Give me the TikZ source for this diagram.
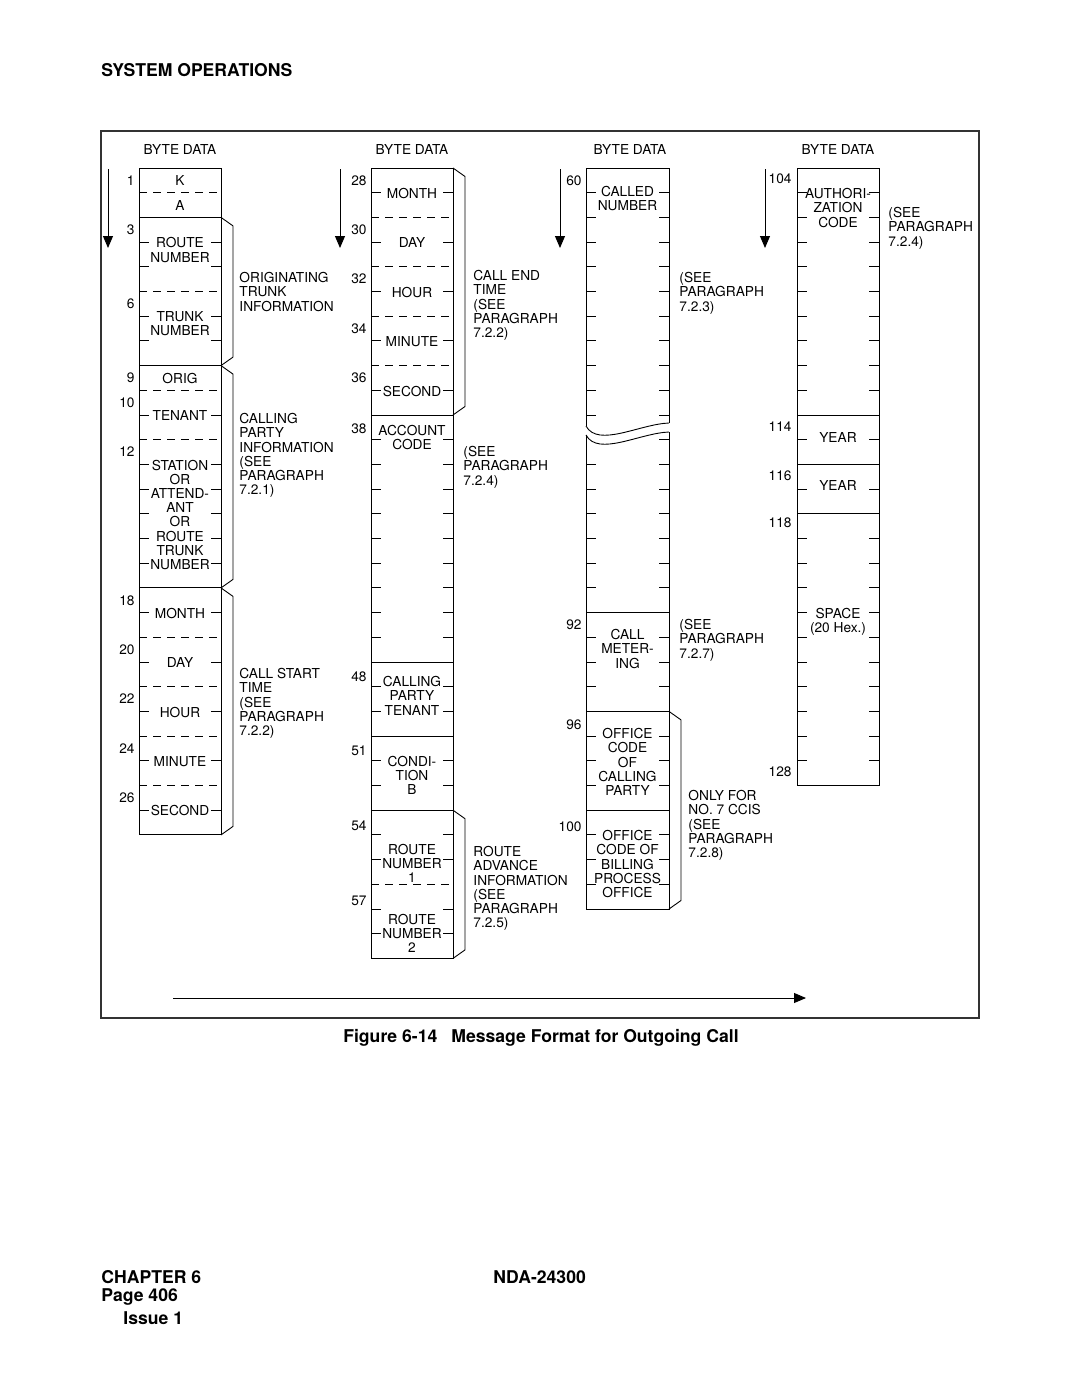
\documentclass[tikz,border=0pt]{standalone}
\usepackage{fontspec}
\setmainfont{TeX Gyre Heros}
\usetikzlibrary{arrows.meta}
\newcommand\bnd[1]{168+(#1)*24.7}
\newcommand\tks[3]{\draw (#1,{#3}) -- ++(10,0) (#2,{#3}) -- ++(-10,0);}
\newcommand\dsh[3]{\draw[dashln] (#1,{#3}) -- (#2,{#3});}
\newcommand\sln[3]{\draw (#1,{#3}) -- (#2,{#3});}
\newcommand\brkt[3]{\draw (#1,{\bnd{#2}}) -- ({#1+12},{\bnd{#2}+8.5}) -- ({#1+12},{\bnd{#3}-8.5}) -- (#1,{\bnd{#3}});}
\newcommand\clab[4]{\node[lbl] (#1) at (#2,{#3-4.9}) {#4};}
\newcommand\glab[4]{\node[grp] (#1) at (#2,{#3-4.9}) {#4};}
\newcommand\nlab[4]{\node[num] (#1) at (#2,{#3}) {#4};}
\begin{document}
\begin{tikzpicture}[x=1pt,y=-1pt,line width=0.9pt,
  lbl/.style={font=\fontsize{13.7}{14.2}\selectfont,inner sep=0pt,align=center,anchor=north},
  grp/.style={font=\fontsize{13.7}{14.2}\selectfont,inner sep=0pt,align=left,anchor=north west},
  num/.style={font=\fontsize{13.7}{14.2}\selectfont,inner sep=0pt,anchor=east},
  hdr/.style={font=\fontsize{13.7}{14.2}\selectfont,inner sep=0pt},
  big/.style={font=\bfseries\fontsize{17.6}{20}\selectfont,inner sep=0pt},
  dashln/.style={dash pattern=on 8pt off 6pt},
  dnarrow/.style={-{Triangle[length=12pt,width=10pt]}}]
\useasboundingbox (0,0) rectangle (1080,1397);
\fill[white] (0,0) rectangle (1080,1397);

% page texts
\node[big,anchor=west] (title) at (101,70) {SYSTEM OPERATIONS};
\draw[line width=1.1pt,black!80] (101,131) rectangle (979,1018);
\node[big] (caption) at (541,1038) {Figure 6-14\hspace{0.8em}Message Format for Outgoing Call};
\node[big,anchor=west] (chap) at (101,1277) {CHAPTER 6};
\node[big,anchor=west] (page) at (101,1297) {Page 406};
\node[big,anchor=west] (issue) at (123,1318) {Issue 1};
\node[big,anchor=west] (nda) at (493,1277) {NDA-24300};

% headers
\node[hdr] (h1) at (180,150) {BYTE DATA};
\node[hdr] (h2) at (412,150) {BYTE DATA};
\node[hdr] (h3) at (630,150) {BYTE DATA};
\node[hdr] (h4) at (838,150) {BYTE DATA};

% direction arrows
\coordinate (a1s) at (108,169); \coordinate (a1e) at (108,248);
\coordinate (a2s) at (340,169); \coordinate (a2e) at (340,248);
\coordinate (a3s) at (560,169); \coordinate (a3e) at (560,248);
\coordinate (a4s) at (765,169); \coordinate (a4e) at (765,248);
\coordinate (bas) at (173,998); \coordinate (bae) at (806,998);
\draw[dnarrow] (a1s) -- (a1e);
\draw[dnarrow] (a2s) -- (a2e);
\draw[dnarrow] (a3s) -- (a3e);
\draw[dnarrow] (a4s) -- (a4e);
\draw[dnarrow] (bas) -- (bae);

% ---------------- column 1 ----------------
\draw (139,168) rectangle (221,{\bnd{27}});
\foreach \k in {1,5,9,11,19,21,23,25} {\dsh{139}{221}{\bnd{\k}}}
\foreach \k in {2,8,17} {\sln{139}{221}{\bnd{\k}}}
\foreach \k in {3,4,6,7,10,12,13,14,15,16,18,20,22,24,26} {\tks{139}{221}{\bnd{\k}}}
\brkt{221}{2}{8}
\brkt{221}{8}{17}
\brkt{221}{17}{27}
\clab{c1k}{180}{\bnd{0.5}}{K}
\clab{c1a}{180}{\bnd{1.5}}{A}
\clab{c1rn}{180}{\bnd{3}}{ROUTE\\NUMBER}
\clab{c1tn}{180}{\bnd{6}}{TRUNK\\NUMBER}
\clab{c1or}{180}{\bnd{8.5}}{ORIG}
\clab{c1te}{180}{\bnd{10}}{TENANT}
\clab{c1st}{180}{\bnd{12}}{STATION\\OR\\ATTEND-\\ANT\\OR\\ROUTE\\TRUNK\\NUMBER}
\clab{c1mo}{180}{\bnd{18}}{MONTH}
\clab{c1da}{180}{\bnd{20}}{DAY}
\clab{c1ho}{180}{\bnd{22}}{HOUR}
\clab{c1mi}{180}{\bnd{24}}{MINUTE}
\clab{c1se}{180}{\bnd{26}}{SECOND}
\nlab{n1}{135}{\bnd{0.5}}{1}
\nlab{n3}{135}{\bnd{2.5}}{3}
\nlab{n6}{135}{\bnd{5.5}}{6}
\nlab{n9}{135}{\bnd{8.5}}{9}
\nlab{n10}{135}{\bnd{9.5}}{10}
\nlab{n12}{135}{\bnd{11.5}}{12}
\nlab{n18}{135}{\bnd{17.5}}{18}
\nlab{n20}{135}{\bnd{19.5}}{20}
\nlab{n22}{135}{\bnd{21.5}}{22}
\nlab{n24}{135}{\bnd{23.5}}{24}
\nlab{n26}{135}{\bnd{25.5}}{26}
\glab{g1a}{239}{277}{ORIGINATING\\TRUNK\\INFORMATION}
\glab{g1b}{239}{418}{CALLING\\PARTY\\INFORMATION\\(SEE\\PARAGRAPH\\7.2.1)}
\glab{g1c}{239}{673}{CALL START\\TIME\\(SEE\\PARAGRAPH\\7.2.2)}

% ---------------- column 2 ----------------
\draw (371,168) rectangle (453,{\bnd{32}});
\foreach \k in {2,4,6,8,29} {\dsh{371}{453}{\bnd{\k}}}
\foreach \k in {10,20,23,26} {\sln{371}{453}{\bnd{\k}}}
\foreach \k in {1,3,5,7,9,11,12,13,14,15,16,17,18,19,21,22,24,25,27,28,30,31} {\tks{371}{453}{\bnd{\k}}}
\brkt{453}{0}{10}
\brkt{453}{26}{32}
\clab{c2mo}{412}{\bnd{1}}{MONTH}
\clab{c2da}{412}{\bnd{3}}{DAY}
\clab{c2ho}{412}{\bnd{5}}{HOUR}
\clab{c2mi}{412}{\bnd{7}}{MINUTE}
\clab{c2se}{412}{\bnd{9}}{SECOND}
\clab{c2ac}{412}{430}{ACCOUNT\\CODE}
\clab{c2ca}{412}{681}{CALLING\\PARTY\\TENANT}
\clab{c2co}{412}{\bnd{24}}{CONDI-\\TION\\B}
\clab{c2r1}{412}{848.6}{ROUTE\\NUMBER\\1}
\clab{c2r2}{412}{918.5}{ROUTE\\NUMBER\\2}
\nlab{n28}{367}{\bnd{0.5}}{28}
\nlab{n30}{367}{\bnd{2.5}}{30}
\nlab{n32}{367}{\bnd{4.5}}{32}
\nlab{n34}{367}{\bnd{6.5}}{34}
\nlab{n36}{367}{\bnd{8.5}}{36}
\nlab{n38}{367}{\bnd{10.5}+1}{38}
\nlab{n48}{367}{\bnd{20.5}+2}{48}
\nlab{n51}{367}{\bnd{23.5}+2}{51}
\nlab{n54}{367}{\bnd{26.5}+3}{54}
\nlab{n57}{367}{\bnd{29.5}+4}{57}
\glab{g2a}{473}{275}{CALL END\\TIME\\(SEE\\PARAGRAPH\\7.2.2)}
\glab{g2b}{463}{451}{(SEE\\PARAGRAPH\\7.2.4)}
\glab{g2c}{473}{851}{ROUTE\\ADVANCE\\INFORMATION\\(SEE\\PARAGRAPH\\7.2.5)}

% ---------------- column 3 ----------------
\draw (586,426) -- (586,168) -- (669,168) -- (669,423);
\draw (669,432) -- (669,{\bnd{30}}) -- (586,{\bnd{30}}) -- (586,435);
\draw (586,426) .. controls (598,448) and (640,424) .. (669,423);
\draw (586,435) .. controls (598,457) and (640,433) .. (669,432);
\foreach \k in {18,22,26} {\sln{586}{669}{\bnd{\k}}}
\foreach \k in {1,2,3,4,5,6,7,8,9,10,12,13,14,15,16,17,19,20,21,23,24,25,27,28,29} {\tks{586}{669}{\bnd{\k}}}
\draw (669,{\bnd{11}}) -- ++(-10,0);
\brkt{669}{22}{30}
\clab{c3cn}{627.5}{191}{CALLED\\NUMBER}
\clab{c3cm}{627.5}{634}{CALL\\METER-\\ING}
\clab{c3oc}{627.5}{733}{OFFICE\\CODE\\OF\\CALLING\\PARTY}
\clab{c3ob}{627.5}{835}{OFFICE\\CODE OF\\BILLING\\PROCESS\\OFFICE}
\nlab{n60}{582}{181}{60}
\nlab{n92}{582}{625}{92}
\nlab{n96}{582}{725}{96}
\nlab{n100}{582}{827}{100}
\glab{g3a}{679}{277}{(SEE\\PARAGRAPH\\7.2.3)}
\glab{g3b}{679}{624}{(SEE\\PARAGRAPH\\7.2.7)}
\glab{g3c}{688}{795}{ONLY FOR\\NO. 7 CCIS\\(SEE\\PARAGRAPH\\7.2.8)}

% ---------------- column 4 ----------------
\draw (797,168) rectangle (879,{\bnd{25}});
\foreach \k in {10,12,14} {\sln{797}{879}{\bnd{\k}}}
\foreach \k in {1,2,3,4,5,6,7,8,9,11,13,15,16,17,18,19,20,21,22,23,24} {\tks{797}{879}{\bnd{\k}}}
\clab{c4au}{838}{193}{AUTHORI-\\ZATION\\CODE}
\clab{c4y1}{838}{437}{YEAR}
\clab{c4y2}{838}{485}{YEAR}
\clab{c4sp}{838}{\bnd{18}}{SPACE\\(20 Hex.)}
\nlab{n104}{792}{179}{104}
\nlab{n114}{792}{427}{114}
\nlab{n116}{792}{476}{116}
\nlab{n118}{792}{523}{118}
\nlab{n128}{792}{772}{128}
\glab{g4a}{888}{212}{(SEE\\PARAGRAPH\\7.2.4)}
\end{tikzpicture}
\end{document}
